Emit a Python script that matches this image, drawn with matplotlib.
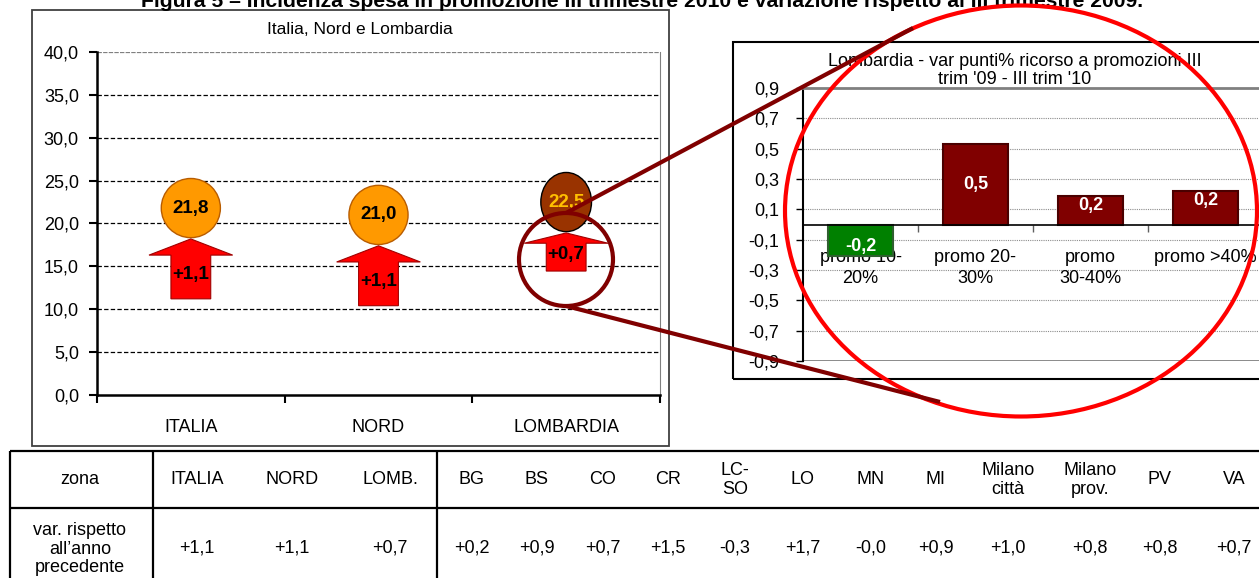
"""Figura 5 - incidenza spesa in promozione, Italia / Nord / Lombardia + tabella province."""
import numpy as np
import matplotlib

matplotlib.use("Agg")
import matplotlib.pyplot as plt  # noqa: E402
from matplotlib.patches import Ellipse, Polygon, Rectangle  # noqa: E402

# --- data -------------------------------------------------------------------
TITLE = ("Figura 5 \u2013 Incidenza spesa in promozione III trimestre 2010 e "
         "variazione rispetto al III trimestre 2009.")

REGIONS = ["ITALIA", "NORD", "LOMBARDIA"]
INCIDENZA = [21.8, 21.0, 22.5]
VARIAZIONE = [1.1, 1.1, 0.7]
LEFT_TITLE = "Italia, Nord e Lombardia"
LEFT_YTICKS = [0, 5, 10, 15, 20, 25, 30, 35, 40]

PROMO_LABELS = ["promo 10-\n20%", "promo 20-\n30%", "promo\n30-40%", "promo >40%"]
PROMO_VAR = [-0.21, 0.53, 0.19, 0.22]
RIGHT_TITLE = "Lombardia - var punti% ricorso a promozioni III\ntrim '09 - III trim '10"
RIGHT_YTICKS = [-0.9, -0.7, -0.5, -0.3, -0.1, 0.1, 0.3, 0.5, 0.7, 0.9]

TABLE_HEAD = "zona"
TABLE_ROW = "var. rispetto\nall\u2019anno\nprecedente"
TABLE_ZONES = ["ITALIA", "NORD", "LOMB.", "BG", "BS", "CO", "CR", "LC-\nSO",
               "LO", "MN", "MI", "Milano\ncittà", "Milano\nprov.", "PV", "VA"]
TABLE_VAR = [1.1, 1.1, 0.7, 0.2, 0.9, 0.7, 1.5, -0.3, 1.7, -0.04, 0.9, 1.0,
             0.8, 0.8, 0.7]

# --- layout (pixels of the 1259x578 canvas) ---------------------------------
W, H = 1259, 578
TABLE_COL_X = [197, 292, 390, 472, 537, 603, 668, 735, 803, 871, 936, 1008,
               1090, 1160, 1234]

ORANGE = "#FF9900"
BROWN = "#993300"
MAROON = "#800000"
GREEN = "#008000"


def fx(x):
    return x / W


def fy(y):
    return 1 - y / H


def comma(v, fmt="{:.1f}"):
    return fmt.format(v).replace(".", ",")


plt.rcParams["font.family"] = ["Liberation Sans", "DejaVu Sans"]
plt.rcParams["font.size"] = 13

fig = plt.figure(figsize=(W / 100, H / 100), dpi=100)

# frames
fig.add_artist(Rectangle((fx(32), fy(446)), fx(669) - fx(32), fy(10) - fy(446),
                         transform=fig.transFigure, fill=False, lw=1.3,
                         ec="#404040"))
fig.add_artist(Rectangle((fx(733), fy(379)), fx(1320) - fx(733), fy(42) - fy(379),
                         transform=fig.transFigure, fill=False, lw=1.5,
                         ec="black"))

fig.text(fx(642), fy(7), TITLE, ha="center", va="baseline", fontsize=15.2,
         fontweight="bold")

# --- left chart ------------------------------------------------------------
ax1 = fig.add_axes([fx(97), fy(395), fx(660) - fx(97), fy(52) - fy(395)])
ax1.set_xlim(-0.5, 2.5)
ax1.set_ylim(0, 40)
for y in LEFT_YTICKS[1:-1]:
    ax1.axhline(y, color="black", lw=0.9, ls=(0, (3.5, 1.8)), zorder=1)
ax1.axhline(40, color="#808080", lw=0.9, ls=(0, (3.5, 1.0)), zorder=1)
ax1.set_yticks(LEFT_YTICKS)
ax1.set_yticklabels([comma(v) for v in LEFT_YTICKS])
ax1.set_xticks(range(len(REGIONS)))
ax1.set_xticklabels(REGIONS)
ax1.set_xticks([-0.5, 0.5, 1.5, 2.5], minor=True)
ax1.tick_params(axis="x", which="major", length=0, pad=17)
ax1.tick_params(axis="x", which="minor", length=6, width=1.5, direction="out")
ax1.tick_params(axis="y", length=6, width=1.5, pad=7)
for s in ("left", "bottom"):
    ax1.spines[s].set_linewidth(1.8)
ax1.spines["top"].set_visible(False)
ax1.spines["right"].set_color("#808080")

for i, (v, c) in enumerate(zip(INCIDENZA, VARIAZIONE)):
    is_lomb = i == len(REGIONS) - 1
    ax1.add_patch(Ellipse((i, v), 0.27 if is_lomb else 0.315, 6.9,
                          fc=BROWN if is_lomb else ORANGE,
                          ec="black" if is_lomb else "#B85C00", lw=1, zorder=4))
    ax1.text(i, v, comma(v), ha="center", va="center", fontsize=13.5,
             fontweight="bold", color="#FFC000" if is_lomb else "black", zorder=5)
    tip = v - 3.6
    length = c * 6.35
    base = tip - length
    neck = tip - 0.27 * length
    pts = [(i - 0.106, base), (i + 0.106, base), (i + 0.106, neck),
           (i + 0.223, neck), (i, tip), (i - 0.223, neck), (i - 0.106, neck)]
    ax1.add_patch(Polygon(pts, closed=True, fc="#FF0000", ec="#A00000", lw=0.8,
                          zorder=4))
    ax1.text(i, (base + neck) / 2 + 0.3, comma(c, "{:+.1f}"), ha="center",
             va="center", fontsize=13.5, fontweight="bold", zorder=5)

fig.text(fx(360), fy(30), LEFT_TITLE, ha="center", va="center", fontsize=12.5)

# --- right chart -----------------------------------------------------------
ax2 = fig.add_axes([fx(803), fy(361), (1263 - 803) / W, (361 - 88) / H])
ax2.set_xlim(-0.5, len(PROMO_VAR) - 0.5)
ax2.set_ylim(-0.9, 0.9)
for y in RIGHT_YTICKS[1:-1]:
    ax2.axhline(y, color="#8c8c8c", lw=0.8, ls=(0, (1, 1)), zorder=1)
ax2.axhline(-0.9, color="#808080", lw=2, zorder=2)
ax2.spines["top"].set_color("#808080")
ax2.spines["top"].set_linewidth(2)
ax2.spines["right"].set_visible(False)
ax2.spines["left"].set_linewidth(1.5)
ax2.spines["bottom"].set_position(("data", 0))
ax2.spines["bottom"].set_linewidth(1.2)
ax2.spines["bottom"].set_zorder(4)

colors = [GREEN if v < 0 else MAROON for v in PROMO_VAR]
edges = ["#2f5f2f" if v < 0 else "#4a0000" for v in PROMO_VAR]
ax2.bar(range(len(PROMO_VAR)), PROMO_VAR, width=0.565, color=colors,
        edgecolor=edges, lw=1.5, zorder=3)
for i, v in enumerate(PROMO_VAR):
    ylab = v / 2 if abs(v) > 0.3 else v - np.sign(v) * 0.065
    ax2.text(i, ylab, comma(v), ha="center", va="center", color="white",
             fontsize=13, fontweight="bold", zorder=5)

ax2.set_yticks(RIGHT_YTICKS)
ax2.set_yticklabels([comma(v) for v in RIGHT_YTICKS])
ax2.tick_params(axis="y", length=5, width=1, pad=12)
ax2.set_xticks(range(len(PROMO_LABELS)))
ax2.set_xticklabels(PROMO_LABELS, linespacing=1.25)
ax2.set_xticks([0.5, 1.5, 2.5], minor=True)
ax2.tick_params(axis="x", which="major", length=0, pad=18)
ax2.tick_params(axis="x", which="minor", length=5, width=1, color="#606060",
                direction="out")

fig.text(fx(1015), fy(70.5), RIGHT_TITLE, ha="center", va="center",
         fontsize=13, linespacing=1.15)

# --- overlay: zoom circles and table ---------------------------------------
ov = fig.add_axes([0, 0, 1, 1], zorder=10)
ov.set_xlim(0, W)
ov.set_ylim(H, 0)
ov.axis("off")
ov.patch.set_alpha(0)

ov.plot([566, 913], [213, 28], color=MAROON, lw=3, solid_capstyle="butt")
ov.plot([566, 940], [306, 402], color=MAROON, lw=3, solid_capstyle="butt")
ov.add_patch(Ellipse((566, 259.5), 94, 93, fill=False, ec=MAROON, lw=3))
ov.add_patch(Ellipse((1021, 211), 472, 411, fill=False, ec="#FF0000", lw=3))

for y in (451, 508):
    ov.plot([10, W + 5], [y, y], color="black", lw=1.6, solid_capstyle="butt")
for x in (10, 153, 437):
    ov.plot([x, x], [451, H + 5], color="black", lw=1.6, solid_capstyle="butt")

ov.text(80, 479, TABLE_HEAD, ha="center", va="center", fontsize=13)
ov.text(80, 549, TABLE_ROW, ha="center", va="center", fontsize=13,
        linespacing=1.12)
for x, zone, val in zip(TABLE_COL_X, TABLE_ZONES, TABLE_VAR):
    ov.text(x, 480, zone, ha="center", va="center", fontsize=13,
            linespacing=1.2)
    ov.text(x, 548, comma(val, "{:+.1f}"), ha="center", va="center",
            fontsize=13)

fig.savefig("out.png", dpi=100)
plt.close(fig)
